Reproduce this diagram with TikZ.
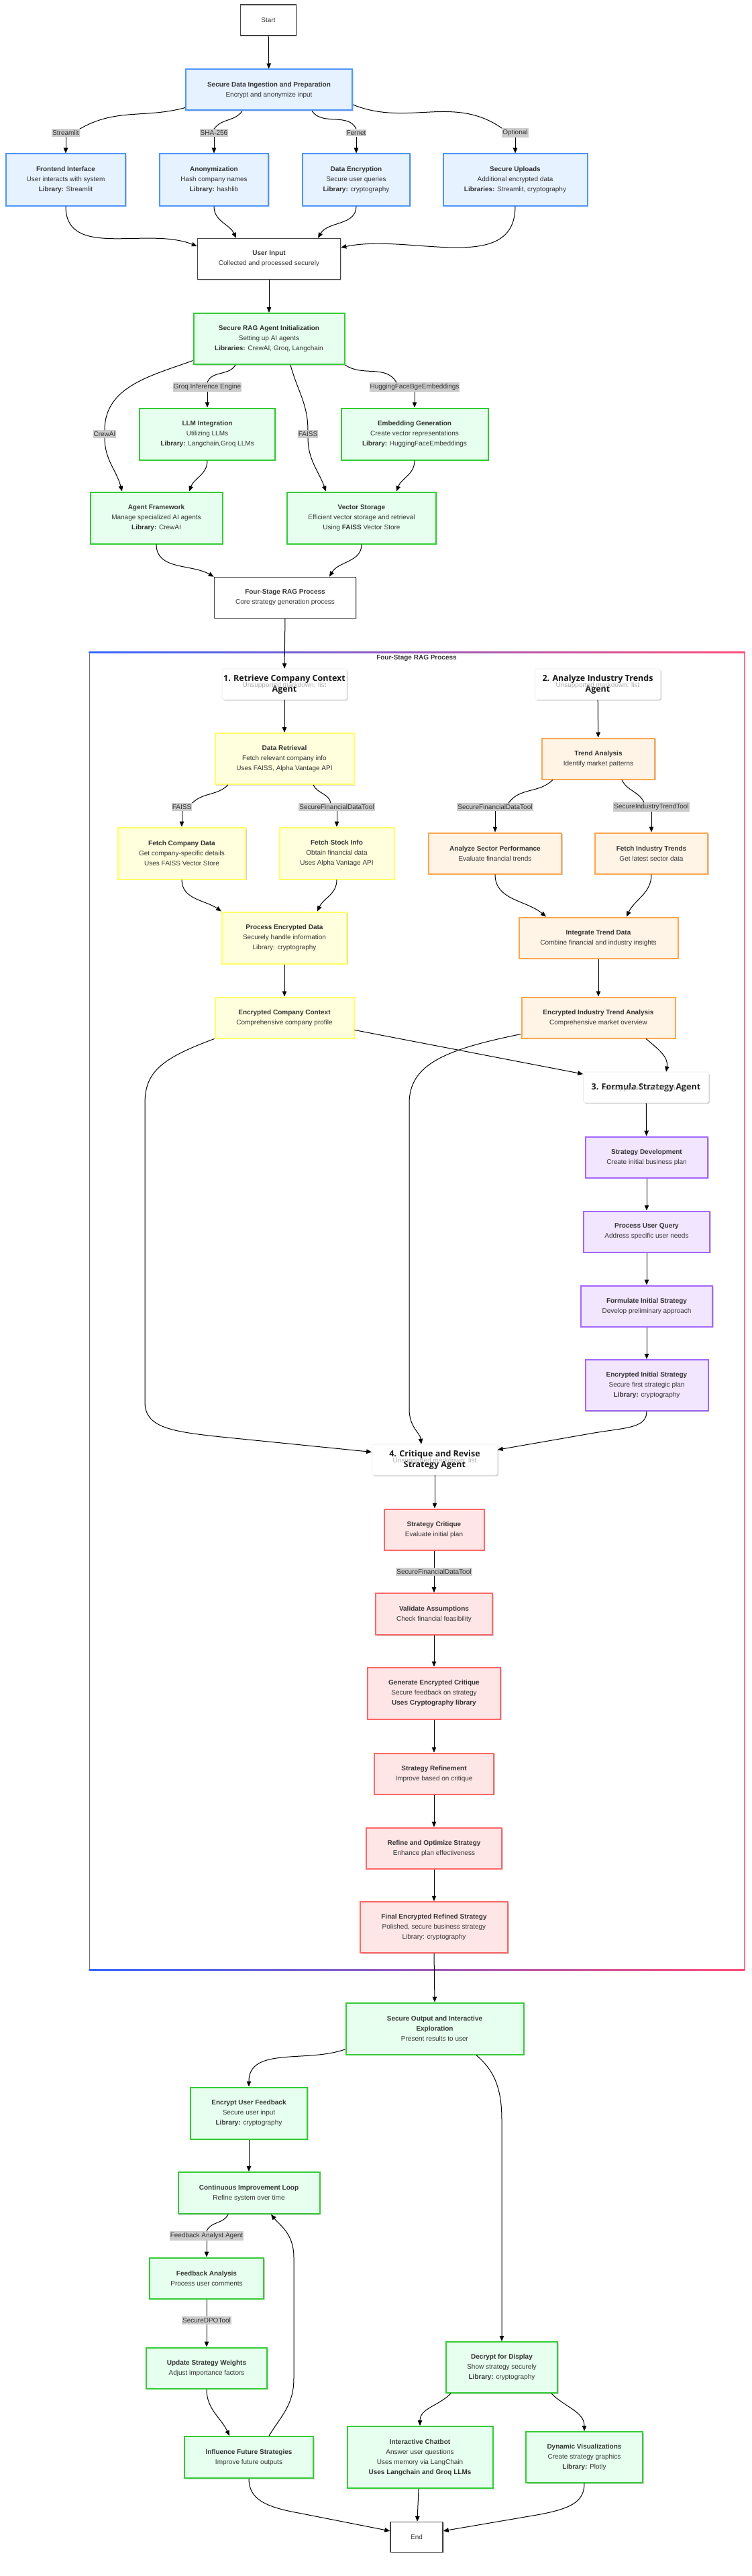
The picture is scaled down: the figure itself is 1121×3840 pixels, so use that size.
\documentclass[tikz,border=0pt]{standalone}
\usepackage{fontspec}
\setmainfont{Liberation Sans}
\newfontfamily\agentfont{Open Sans}
\usetikzlibrary{arrows.meta,shadows}
\definecolor{bluefill}{HTML}{E6F2FF}
\definecolor{bluestroke}{HTML}{4D94FF}
\definecolor{greenfill}{HTML}{E6FFEE}
\definecolor{greenstroke}{HTML}{33CC33}
\definecolor{yellowfill}{HTML}{FFFFDD}
\definecolor{yellowstroke}{HTML}{FFFF66}
\definecolor{orangefill}{HTML}{FFF4E6}
\definecolor{orangestroke}{HTML}{FFA64D}
\definecolor{purplefill}{HTML}{F2E6FF}
\definecolor{purplestroke}{HTML}{A366FF}
\definecolor{redfill}{HTML}{FFE6E6}
\definecolor{redstroke}{HTML}{FF6666}
\definecolor{graystroke}{HTML}{444444}
\definecolor{labelgray}{HTML}{CCCCCC}
\definecolor{txt}{HTML}{333333}
\definecolor{clblue}{HTML}{3366FF}
\definecolor{clpink}{HTML}{FF4D79}
\tikzset{
  base/.style={draw, rectangle, align=center, text=txt, font=\fontsize{10}{15}\selectfont,
    inner sep=0pt, line width=2pt,
    drop shadow={shadow xshift=1.5pt, shadow yshift=-1.5pt, opacity=0.18, fill=black}},
  bluebox/.style={base, fill=bluefill, draw=bluestroke},
  greenbox/.style={base, fill=greenfill, draw=greenstroke},
  yellowbox/.style={base, fill=yellowfill, draw=yellowstroke},
  orangebox/.style={base, fill=orangefill, draw=orangestroke},
  purplebox/.style={base, fill=purplefill, draw=purplestroke},
  redbox/.style={base, fill=redfill, draw=redstroke},
  plainbox/.style={base, fill=white, draw=graystroke, line width=1.5pt},
  agentbox/.style={base, fill=white, draw=black!8, line width=0.6pt, text=black!90, rounded corners=3pt,
    font=\agentfont\fontsize{12.5}{16}\selectfont\bfseries},
  ghost/.style={text=black!32, font=\fontsize{10}{12}\selectfont, inner sep=0pt},
  elabel/.style={fill=labelgray, text=txt, font=\fontsize{10}{12}\selectfont, inner xsep=1pt, inner ysep=2pt},
  ln/.style={line width=1pt, draw=black},
  arr/.style={ln, -{Triangle[length=8pt,width=6.5pt]}},
}
\newcommand\bx[6]{\node[#1, minimum width=#2pt, minimum height=#3pt] (#4) at (#5) {#6};}
\begin{document}
\begin{tikzpicture}[x=1pt,y=-1pt]
\useasboundingbox (0,0) rectangle (1121,3840);
\fill[white] (0,0) rectangle (1121,3840);

% ---------- cluster frame ----------
\draw[line width=1pt, black!55] (133,972) -- (133,2936);
\draw[line width=1.5pt, clpink!80] (1110,972) -- (1110,2936);
\shade[left color=clblue, right color=clpink] (132.5,971) rectangle (1110.5,973.5);
\shade[left color=clblue, right color=clpink] (132.5,2935) rectangle (1110.5,2937.5);
\node[font=\fontsize{10}{12}\selectfont\bfseries, text=txt] (cltitle) at (621,981) {Four-Stage RAG Process};

% ---------- top section ----------
\bx{plainbox}{83}{46}{start}{400,30}{Start}
\bx{bluebox}{248}{61}{sdi}{401,134}{\textbf{Secure Data Ingestion and Preparation}\\Encrypt and anonymize input}
\bx{bluebox}{178}{77}{fe}{98,268}{\textbf{Frontend Interface}\\User interacts with system\\\textbf{Library:} Streamlit}
\bx{bluebox}{162}{77}{anon}{319,268}{\textbf{Anonymization}\\Hash company names\\\textbf{Library:} hashlib}
\bx{bluebox}{160}{77}{denc}{531,268}{\textbf{Data Encryption}\\Secure user queries\\\textbf{Library:} cryptography}
\bx{bluebox}{215}{77}{sup}{768,268}{\textbf{Secure Uploads}\\Additional encrypted data\\\textbf{Libraries:} Streamlit, cryptography}
\bx{plainbox}{213}{61}{ui}{401,386}{\textbf{User Input}\\Collected and processed securely}
\bx{greenbox}{225}{76}{rag}{401,505}{\textbf{Secure RAG Agent Initialization}\\Setting up AI agents\\\textbf{Libraries:} CrewAI, Groq, Langchain}
\bx{greenbox}{202}{77}{llm}{309,647}{\textbf{LLM Integration}\\Utilizing LLMs\\\textbf{Library:} Langchain,Groq LLMs}
\bx{greenbox}{219}{77}{emb}{618,647}{\textbf{Embedding Generation}\\Create vector representations\\\textbf{Library:} HuggingFaceEmbeddings}
\bx{greenbox}{197}{77}{af}{233,772}{\textbf{Agent Framework}\\Manage specialized AI agents\\\textbf{Library:} CrewAI}
\bx{greenbox}{222}{77}{vs}{539,772}{\textbf{Vector Storage}\\Efficient vector storage and retrieval\\Using \textbf{FAISS} Vector Store}
\bx{plainbox}{211}{61}{fsr}{425,891}{\textbf{Four-Stage RAG Process}\\Core strategy generation process}

\node[elabel] (lstream) at (98,198) {Streamlit};
\node[elabel] (lsha) at (319,198) {SHA-256};
\node[elabel] (lfernet) at (531,198) {Fernet};
\node[elabel] (lopt) at (768,198) {Optional};
\node[elabel] (lgroq) at (309,577) {Groq Inference Engine};
\node[elabel] (lhf) at (618,577) {HuggingFaceBgeEmbeddings};
\node[elabel] (lcrew) at (156,647) {CrewAI};
\node[elabel] (lfaiss) at (459,647) {FAISS};

% ---------- cluster nodes ----------
\bx{agentbox}{186}{46}{a1}{424,1020}{1. Retrieve Company Context\\Agent}
\node[ghost] (a1u) at (424,1022) {Unsupported markdown: list};
\bx{agentbox}{187}{46}{a2}{891,1020}{2. Analyze Industry Trends\\Agent}
\node[ghost] (a2u) at (891,1022) {Unsupported markdown: list};
\bx{yellowbox}{207}{76}{dr}{424,1131}{\textbf{Data Retrieval}\\Fetch relevant company info\\Uses FAISS, Alpha Vantage API}
\bx{orangebox}{168}{61}{ta}{892,1131}{\textbf{Trend Analysis}\\Identify market patterns}
\bx{yellowbox}{190}{77}{fcd}{271,1272}{\textbf{Fetch Company Data}\\Get company-specific details\\Uses FAISS Vector Store}
\bx{yellowbox}{171}{77}{fsi}{502,1272}{\textbf{Fetch Stock Info}\\Obtain financial data\\Uses Alpha Vantage API}
\bx{orangebox}{198}{61}{asp}{738,1272}{\textbf{Analyze Sector Performance}\\Evaluate financial trends}
\bx{orangebox}{168}{61}{fit}{971,1272}{\textbf{Fetch Industry Trends}\\Get latest sector data}
\bx{yellowbox}{186}{77}{ped}{424,1398}{\textbf{Process Encrypted Data}\\Securely handle information\\Library: cryptography}
\bx{orangebox}{237}{61}{itd}{892,1398}{\textbf{Integrate Trend Data}\\Combine financial and industry insights}
\bx{yellowbox}{207}{61}{ecc}{424,1517}{\textbf{Encrypted Company Context}\\Comprehensive company profile}
\bx{orangebox}{229}{61}{eita}{892,1517}{\textbf{Encrypted Industry Trend Analysis}\\Comprehensive market overview}
\bx{agentbox}{187}{46}{a3}{963,1621}{3. Formula Strategy Agent}
\node[ghost] (a3u) at (963,1623) {Unsupported markdown: list};
\bx{purplebox}{182}{61}{sd}{964,1725}{\textbf{Strategy Development}\\Create initial business plan}
\bx{purplebox}{188}{61}{puq}{964,1836}{\textbf{Process User Query}\\Address specific user needs}
\bx{purplebox}{196}{61}{fis}{964,1947}{\textbf{Formulate Initial Strategy}\\Develop preliminary approach}
\bx{purplebox}{183}{76}{eis}{964,2065}{\textbf{Encrypted Initial Strategy}\\Secure first strategic plan\\\textbf{Library:} cryptography}
\bx{agentbox}{187}{46}{a4}{648,2176}{4. Critique and Revise\\Strategy Agent}
\node[ghost] (a4u) at (648,2178) {Unsupported markdown: list};
\bx{redbox}{149}{61}{sc}{647,2280}{\textbf{Strategy Critique}\\Evaluate initial plan}
\bx{redbox}{174}{62}{va}{647,2406}{\textbf{Validate Assumptions}\\Check financial feasibility}
\bx{redbox}{198}{77}{gec}{647,2524}{\textbf{Generate Encrypted Critique}\\Secure feedback on strategy\\\textbf{Uses Cryptography library}}
\bx{redbox}{178}{61}{sr}{647,2644}{\textbf{Strategy Refinement}\\Improve based on critique}
\bx{redbox}{202}{61}{ros}{647,2755}{\textbf{Refine and Optimize Strategy}\\Enhance plan effectiveness}
\bx{redbox}{220}{76}{fers}{647,2873}{\textbf{Final Encrypted Refined Strategy}\\Polished, secure business strategy\\Library: cryptography}

\node[elabel] (lfaiss2) at (271,1203) {FAISS};
\node[elabel] (lsfdt1) at (502,1203) {SecureFinancialDataTool};
\node[elabel] (lsfdt2) at (738,1203) {SecureFinancialDataTool};
\node[elabel] (lsitt) at (971,1203) {SecureIndustryTrendTool};
\node[elabel] (lsfdt3) at (647,2343) {SecureFinancialDataTool};

% ---------- bottom section ----------
\bx{greenbox}{265}{77}{sob}{648,3024}{\textbf{Secure Output and Interactive}\\\textbf{Exploration}\\Present results to user}
\bx{greenbox}{174}{77}{euf}{371,3150}{\textbf{Encrypt User Feedback}\\Secure user input\\\textbf{Library:} cryptography}
\bx{greenbox}{211}{62}{cil}{371,3269}{\textbf{Continuous Improvement Loop}\\Refine system over time}
\bx{greenbox}{170}{61}{fa}{308,3396}{\textbf{Feedback Analysis}\\Process user comments}
\bx{greenbox}{180}{61}{usw}{308,3530}{\textbf{Update Strategy Weights}\\Adjust importance factors}
\bx{greenbox}{166}{76}{dfd}{748,3529}{\textbf{Decrypt for Display}\\Show strategy securely\\\textbf{Library:} cryptography}
\bx{greenbox}{192}{62}{ifs}{371,3663}{\textbf{Influence Future Strategies}\\Improve future outputs}
\bx{greenbox}{217}{92}{ic}{626,3663}{\textbf{Interactive Chatbot}\\Answer user questions\\Uses memory via LangChain\\\textbf{Uses Langchain and Groq LLMs}}
\bx{greenbox}{174}{76}{dv}{871,3663}{\textbf{Dynamic Visualizations}\\Create strategy graphics\\\textbf{Library:} Plotly}
\bx{plainbox}{78}{45}{end}{621,3782}{End}

\node[elabel] (lfaa) at (308,3333) {Feedback Analyst Agent};
\node[elabel] (ldpo) at (308,3459) {SecureDPOTool};

% ---------- edges: top ----------
\draw[arr] (start) -- (sdi);
\draw[ln] (sdi.192) to[out=195,in=30] (lstream.north east);
\draw[arr] (lstream) -- (fe);
\draw[ln] ([xshift=-40pt]sdi.south) to[out=235,in=55] (lsha.north);
\draw[arr] (lsha) -- (anon);
\draw[ln] ([xshift=64pt]sdi.south) to[out=-55,in=115] (lfernet.north);
\draw[arr] (lfernet) -- (denc);
\draw[ln] (sdi.-10) to[out=-22,in=145] (lopt.north west);
\draw[arr] (lopt) -- (sup);
\draw[arr] (fe.south) to[out=-90,in=158] (ui.170);
\draw[arr] (anon.south) to[out=-90,in=115] ([xshift=-49pt]ui.north);
\draw[arr] (denc.south) to[out=-90,in=60] ([xshift=73pt]ui.north);
\draw[arr] (sup.south) to[out=-90,in=12] (ui.9);
\draw[arr] (ui) -- (rag);
\draw[ln] (rag.196) to[out=200,in=90] (lcrew.north);
\draw[arr] (lcrew.south) to[out=-90,in=105] ([xshift=-51pt]af.north);
\draw[ln] ([xshift=-50pt]rag.south) to[out=-120,in=70] (lgroq.north);
\draw[arr] (lgroq) -- (llm);
\draw[ln] ([xshift=32pt]rag.south) to[out=-75,in=90] (lfaiss.north);
\draw[arr] (lfaiss.south) to[out=-90,in=110] ([xshift=-53pt]vs.north);
\draw[ln] (rag.south east) to[out=-35,in=120] ([xshift=-27pt]lhf.north);
\draw[arr] (lhf) -- (emb);
\draw[arr] (llm.south) to[out=-90,in=70] ([xshift=49pt]af.north);
\draw[arr] (emb.south) to[out=-90,in=70] ([xshift=52pt]vs.north);
\draw[arr] (af.south) to[out=-90,in=150] (fsr.north west);
\draw[arr] (vs.south) to[out=-90,in=60] ([xshift=66pt]fsr.north);
\draw[arr] (fsr.south) -- (a1.north);

% ---------- edges: cluster ----------
\draw[arr] (a1) -- (dr);
\draw[arr] (a2) -- (ta);
\draw[ln] ([xshift=-84pt]dr.south) to[out=-135,in=45] (lfaiss2.north east);
\draw[arr] (lfaiss2) -- (fcd);
\draw[ln] ([xshift=43pt]dr.south) to[out=-65,in=100] ([xshift=-9pt]lsfdt1.north);
\draw[arr] (lsfdt1) -- (fsi);
\draw[ln] ([xshift=-68pt]ta.south) to[out=-135,in=55] ([xshift=20pt]lsfdt2.north);
\draw[arr] (lsfdt2) -- (asp);
\draw[ln] ([xshift=35pt]ta.south) to[out=-65,in=115] ([xshift=-11pt]lsitt.north);
\draw[arr] (lsitt) -- (fit);
\draw[arr] (fcd.south) to[out=-90,in=145] (ped.north west);
\draw[arr] (fsi.south) to[out=-90,in=65] ([xshift=49pt]ped.north);
\draw[arr] (ped) -- (ecc);
\draw[arr] (asp.south) to[out=-90,in=140] ([xshift=-78pt]itd.north);
\draw[arr] (fit.south) to[out=-90,in=65] ([xshift=42pt]itd.north);
\draw[arr] (itd) -- (eita);
\draw[arr] (ecc.-10) -- (a3.168);
\draw[arr] ([xshift=71pt]eita.south) to[out=-40,in=80] ([xshift=30pt]a3.north);
\draw[arr] (ecc.south west) .. controls (240,1578) and (216,1598) .. (216,1645)
   -- (216,2090) .. controls (216,2128) and (255,2134) .. (330,2142) -- (a4.173);
\draw[arr] (eita.192) .. controls (660,1565) and (610,1588) .. (610,1645)
   -- (610,2100) .. controls (610,2128) and (626,2135) .. ([xshift=-20pt]a4.north);
\draw[arr] (eis.south) .. controls (964,2130) and (930,2128) .. (880,2137) -- (a4.9);
\draw[arr] (a3) -- (sd);
\draw[arr] (sd) -- (puq);
\draw[arr] (puq) -- (fis);
\draw[arr] (fis) -- (eis);
\draw[arr] (a4.south) -- ([xshift=1pt]sc.north);
\draw[ln] (sc) -- (lsfdt3);
\draw[arr] (lsfdt3) -- (va);
\draw[arr] (va) -- (gec);
\draw[arr] (gec) -- (sr);
\draw[arr] (sr) -- (ros);
\draw[arr] (ros) -- (fers);
\draw[arr] (fers.south) -- (sob.north);

% ---------- edges: bottom ----------
\draw[arr] (sob.193) to[out=200,in=90] (euf.north);
\draw[arr] ([xshift=62pt]sob.south) .. controls (735,3085) and (748,3110) .. (748,3160) -- (dfd.north);
\draw[arr] (euf) -- (cil);
\draw[ln] ([xshift=-31pt]cil.south) to[out=-115,in=70] (lfaa.north);
\draw[arr] (lfaa) -- (fa);
\draw[ln] (fa) -- (ldpo);
\draw[arr] (ldpo) -- (usw);
\draw[arr] (usw.south) to[out=-90,in=115] ([xshift=-29pt]ifs.north);
\draw[arr] ([xshift=30pt]ifs.north) .. controls (420,3600) and (438,3585) .. (438,3545)
   -- (438,3365) .. controls (438,3330) and (418,3318) .. ([xshift=33pt]cil.south);
\draw[arr] (ifs.south) .. controls (371,3725) and (395,3737) .. (445,3746) -- (end.167);
\draw[arr] (ic) -- (end);
\draw[arr] (dv.south) .. controls (871,3730) and (850,3740) .. (800,3749) -- (end.13);
\draw[arr] ([xshift=-76pt]dfd.south) to[out=-135,in=90] (ic.north);
\draw[arr] ([xshift=74pt]dfd.south) to[out=-45,in=90] (dv.north);
\end{tikzpicture}
\end{document}
